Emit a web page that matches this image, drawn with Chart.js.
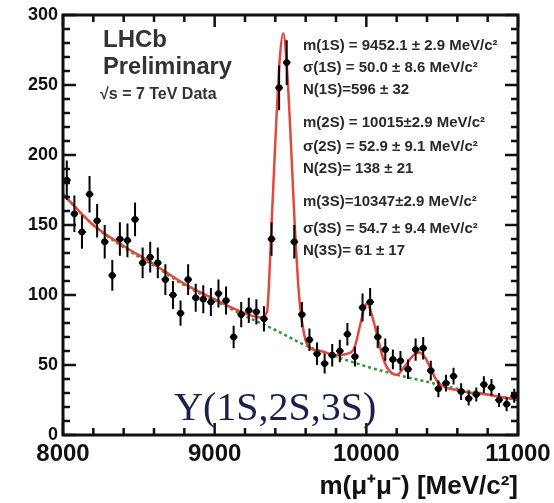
<!DOCTYPE html>
<html lang="en">
<head>
    <meta charset="UTF-8">
    <title>LHCb Upsilon mass spectrum</title>
    <script src="https://cdn.jsdelivr.net/npm/chart.js"></script>
    <style>
        body { margin: 0; background: #fff; }
    </style>
</head>
<body>
    <canvas id="massChart" width="554" height="503"></canvas>
    <script>
        // bin centres (MeV/c^2), 50 MeV bins
        const binCenters = [8025, 8075, 8125, 8175, 8225, 8275, 8325, 8375, 8425, 8475,
            8525, 8575, 8625, 8675, 8725, 8775, 8825, 8875, 8925, 8975,
            9025, 9075, 9125, 9175, 9225, 9275, 9325, 9375, 9425, 9475,
            9525, 9575, 9625, 9675, 9725, 9775, 9825, 9875, 9925, 9975,
            10025, 10075, 10125, 10175, 10225, 10275, 10325, 10375, 10425, 10475,
            10525, 10575, 10625, 10675, 10725, 10775, 10825, 10875, 10925, 10975];
        const counts = [182, 158, 145, 172, 153, 138, 114, 140, 139, 154,
            123, 127, 123, 111, 100, 87, 111, 98, 97, 95,
            101, 96, 70, 86, 89, 88, 83, 140, 248, 266,
            138, 86, 68, 58, 51, 57, 60, 72, 56, 91,
            95, 70, 61, 54, 53, 47, 61, 62, 46, 33,
            37, 42, 31, 26, 29, 36, 34, 25, 22, 28];
        const countErrors = [14, 13, 12, 13, 12, 12, 11, 12, 12, 12,
            11, 11, 11, 11, 10, 9, 11, 10, 10, 10,
            10, 10, 8, 9, 9, 9, 9, 12, 16, 16,
            12, 9, 8, 8, 7, 8, 8, 8, 7, 10,
            10, 8, 8, 7, 7, 7, 8, 8, 7, 6,
            6, 6, 6, 5, 5, 6, 6, 5, 5, 5];
        const binHalfWidth = 25;

        // total fit (red)
        const fitMass = [8000, 8200, 8400, 8600, 8800, 9000, 9200, 9300, 9345, 9375,
            9408, 9430, 9452, 9475, 9500, 9528, 9560, 9590, 9620, 9700,
            9800, 9870, 9920, 9958, 9990, 10005, 10030, 10070, 10110, 10150,
            10200, 10260, 10310, 10350, 10390, 10430, 10470, 10520, 10600, 10700,
            10800, 10900, 11000];
        const fitValues = [172, 150, 135, 122, 108, 97, 87, 84, 88, 150,
            228, 270, 287, 265, 215, 150, 95, 72, 63, 60,
            57, 58, 62, 78, 92, 94, 88, 72, 55, 46,
            43, 50, 57, 59, 55, 46, 38, 34, 32, 30,
            29, 27, 25];

        // background component (green dashed)
        const bkgMass = [8000, 8200, 8400, 8600, 8800, 9000, 9200, 9400, 9600, 9800,
            10000, 10200, 10400, 10600, 10800, 11000];
        const bkgValues = [172, 150, 134, 121, 107, 96, 85, 75, 64, 56,
            49, 43, 38, 33, 29, 25];

        const xTicks = [8000, 9000, 10000, 11000];
        const yTicks = [0, 50, 100, 150, 200, 250, 300];

        const statLines = [
            ['m(1S) = 9452.1 ± 2.9 MeV/c²', 46],
            ['σ(1S) = 50.0 ± 8.6 MeV/c²', 68],
            ['N(1S)=596 ± 32', 90],
            ['m(2S) = 10015±2.9 MeV/c²', 123],
            ['σ(2S) = 52.9 ± 9.1 MeV/c²', 147],
            ['N(2S)= 138 ± 21', 169],
            ['m(3S)=10347±2.9 MeV/c²', 202],
            ['σ(3S) = 54.7 ± 9.4 MeV/c²', 229],
            ['N(3S)= 61 ± 17', 251]
        ];

        const SANS = '"Liberation Sans", Arial, Helvetica, sans-serif';

        // error bars, inward ticks, frame and text
        const decorations = {
            id: 'decorations',
            afterDatasetsDraw(chart) {
                const ctx = chart.ctx;
                const xs = chart.scales.x, ys = chart.scales.y;
                ctx.save();
                ctx.strokeStyle = '#000';
                ctx.lineWidth = 2;
                for (let i = 0; i < binCenters.length; i++) {
                    const px = xs.getPixelForValue(binCenters[i]);
                    const py = ys.getPixelForValue(counts[i]);
                    ctx.beginPath();
                    ctx.moveTo(px, ys.getPixelForValue(counts[i] - countErrors[i]));
                    ctx.lineTo(px, ys.getPixelForValue(counts[i] + countErrors[i]));
                    ctx.moveTo(xs.getPixelForValue(binCenters[i] - binHalfWidth), py);
                    ctx.lineTo(xs.getPixelForValue(binCenters[i] + binHalfWidth), py);
                    ctx.stroke();
                }
                ctx.restore();
            },
            afterDraw(chart) {
                const ctx = chart.ctx;
                const a = chart.chartArea;
                const xs = chart.scales.x, ys = chart.scales.y;
                ctx.save();
                ctx.strokeStyle = '#111';
                ctx.lineWidth = 2.5;
                ctx.beginPath();
                for (let v = 8000; v <= 11000; v += 200) {
                    const px = xs.getPixelForValue(v);
                    const len = v % 1000 === 0 ? 12 : 7;
                    ctx.moveTo(px, a.bottom); ctx.lineTo(px, a.bottom - len);
                    ctx.moveTo(px, a.top); ctx.lineTo(px, a.top + len);
                }
                for (let v = 0; v <= 300; v += 10) {
                    const py = ys.getPixelForValue(v);
                    const len = v % 50 === 0 ? 13 : 7;
                    ctx.moveTo(a.left, py); ctx.lineTo(a.left + len, py);
                    ctx.moveTo(a.right, py); ctx.lineTo(a.right - len, py);
                }
                ctx.stroke();
                ctx.lineWidth = 3;
                ctx.strokeRect(a.left, a.top, a.right - a.left, a.bottom - a.top);

                ctx.fillStyle = '#333';
                ctx.textBaseline = 'middle';
                ctx.font = 'bold 24px ' + SANS;
                ctx.fillText('LHCb', 103, 40);
                ctx.fillText('Preliminary', 103, 67, 129);
                ctx.font = 'bold 16px ' + SANS;
                ctx.fillText('√s = 7 TeV Data', 100, 95, 125);

                ctx.fillStyle = '#2a2a2a';
                ctx.font = 'bold 15px ' + SANS;
                statLines.forEach(([txt, y]) => ctx.fillText(txt, 303, y, 202));

                ctx.fillStyle = '#1b1f4f';
                ctx.textBaseline = 'alphabetic';
                ctx.font = '40px "Liberation Serif", "Times New Roman", serif';
                ctx.fillText('Υ(1S,2S,3S)', 174, 420);
                ctx.restore();
            }
        };

        const ctx = document.getElementById('massChart').getContext('2d');
        const massChart = new Chart(ctx, {
            type: 'scatter',
            data: {
                datasets: [
                    {
                        label: 'Data',
                        data: binCenters.map((m, i) => ({ x: m, y: counts[i] })),
                        backgroundColor: '#000',
                        borderColor: '#000',
                        pointRadius: 3,
                        order: 0
                    },
                    {
                        type: 'line',
                        label: 'Fit',
                        data: fitMass.map((m, i) => ({ x: m, y: fitValues[i] })),
                        borderColor: '#e5473d',
                        borderWidth: 2.5,
                        pointRadius: 0,
                        cubicInterpolationMode: 'monotone',
                        fill: false,
                        order: 1
                    },
                    {
                        type: 'line',
                        label: 'Background',
                        data: bkgMass.map((m, i) => ({ x: m, y: bkgValues[i] })),
                        borderColor: '#2f9a3a',
                        borderWidth: 2.5,
                        borderDash: [3, 3],
                        pointRadius: 0,
                        cubicInterpolationMode: 'monotone',
                        fill: false,
                        order: 2
                    }
                ]
            },
            options: {
                responsive: false,
                animation: false,
                layout: { padding: { top: 15, right: 36, left: 0, bottom: 0 } },
                plugins: {
                    legend: { display: false },
                    tooltip: { enabled: false }
                },
                scales: {
                    x: {
                        type: 'linear',
                        min: 8000,
                        max: 11000,
                        grid: { display: false, drawTicks: false },
                        border: { display: false },
                        afterBuildTicks: s => { s.ticks = xTicks.map(v => ({ value: v })); },
                        afterFit: s => { s.height = 68; s.paddingLeft = 0; s.paddingRight = 0; },
                        ticks: {
                            color: '#111',
                            padding: 5,
                            maxRotation: 0,
                            autoSkip: false,
                            callback: v => String(v),
                            font: { family: SANS, size: 24, weight: 'bold' }
                        },
                        title: {
                            display: true,
                            text: 'm(μ⁺μ⁻) [MeV/c²]',
                            align: 'end',
                            color: '#111',
                            padding: { top: 0, bottom: 1 },
                            font: { family: SANS, size: 26, weight: 'bold' }
                        }
                    },
                    y: {
                        min: 0,
                        max: 300,
                        grid: { display: false, drawTicks: false },
                        border: { display: false },
                        afterBuildTicks: s => { s.ticks = yTicks.map(v => ({ value: v })); },
                        afterFit: s => { s.width = 63; s.paddingTop = 0; s.paddingBottom = 0; },
                        ticks: {
                            color: '#111',
                            padding: 5,
                            callback: v => String(v),
                            font: { family: SANS, size: 18, weight: 'bold' }
                        }
                    }
                }
            },
            plugins: [decorations]
        });
    </script>
</body>
</html>
